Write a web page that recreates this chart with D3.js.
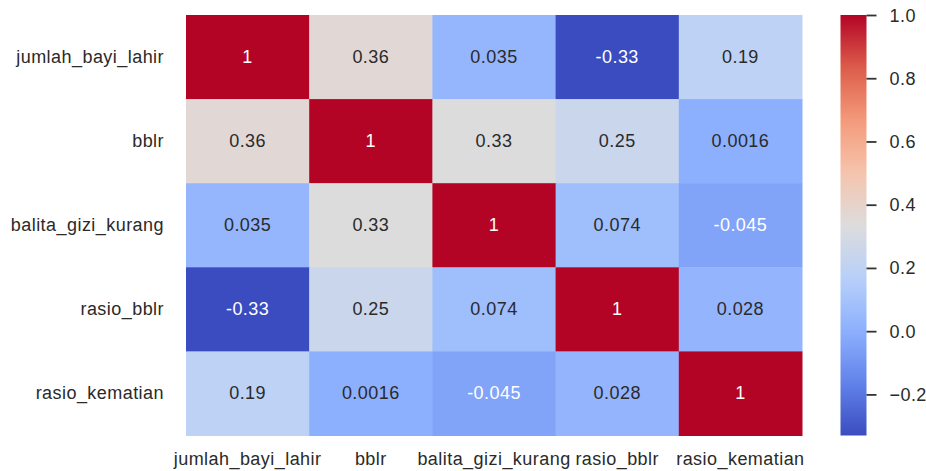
<!DOCTYPE html>
<html>
<head>
<meta charset="utf-8">
<script src="https://cdn.jsdelivr.net/npm/d3@7"></script>
<style>
  html, body { margin: 0; padding: 0; background: #ffffff; }
  svg { display: block; }
  text { font-family: "Liberation Sans", Arial, Helvetica, sans-serif; letter-spacing: 0.45px; }
</style>
</head>
<body>
<svg id="chart" width="926" height="471"></svg>
<script>
// Variables of the correlation matrix (rows and columns share the same order)
const variables = ["jumlah_bayi_lahir", "bblr", "balita_gizi_kurang", "rasio_bblr", "rasio_kematian"];

// Pearson correlation coefficients, one array per row
const rowJumlahBayiLahir = [1, 0.36, 0.035, -0.33, 0.19];
const rowBblr            = [0.36, 1, 0.33, 0.25, 0.0016];
const rowBalitaGiziKurang = [0.035, 0.33, 1, 0.074, -0.045];
const rowRasioBblr       = [-0.33, 0.25, 0.074, 1, 0.028];
const rowRasioKematian   = [0.19, 0.0016, -0.045, 0.028, 1];
const matrix = [rowJumlahBayiLahir, rowBblr, rowBalitaGiziKurang, rowRasioBblr, rowRasioKematian];

// Colour bar tick values
const colorbarTicks = [-0.2, 0.0, 0.2, 0.4, 0.6, 0.8, 1.0];

// "coolwarm" diverging colormap stops
const coolwarmStops = ["#3b4cc0", "#6282ea", "#8db0fe", "#b8d0f9", "#dddcdc",
                       "#f5c4ac", "#f49a7b", "#dc5d4a", "#b40426"];

const vmin = d3.min(matrix.flat());
const vmax = d3.max(matrix.flat());

const svg = d3.select("#chart");
const textColor = "#2a2a2a";
const fontSize = 18;

// Heatmap area
const hm = { left: 186, top: 15, right: 802, bottom: 435.5 };

const x = d3.scaleBand().domain(variables).range([hm.left, hm.right]);
const y = d3.scaleBand().domain(variables).range([hm.top, hm.bottom]);

const t = d3.scaleLinear().domain([vmin, vmax]).range([0, 1]).clamp(true);
const cmap = d3.scaleLinear()
  .domain(coolwarmStops.map((_, i) => i / (coolwarmStops.length - 1)))
  .range(coolwarmStops)
  .interpolate(d3.interpolateRgb);
const color = v => cmap(t(v));

// Annotation text colour depends on the luminance of the cell colour
function relLum(c) {
  const rgb = d3.rgb(c);
  const lin = [rgb.r, rgb.g, rgb.b].map(v => {
    v /= 255;
    return v <= 0.03928 ? v / 12.92 : Math.pow((v + 0.055) / 1.055, 2.4);
  });
  return 0.2126 * lin[0] + 0.7152 * lin[1] + 0.0722 * lin[2];
}

const fmt = d3.formatLocale({ decimal: ".", thousands: ",", grouping: [3], currency: ["", ""], minus: "-" })
  .format(".2~g");

const cells = [];
matrix.forEach((row, i) => row.forEach((v, j) => cells.push({ r: variables[i], c: variables[j], v })));

const g = svg.append("g");
g.selectAll("rect.cell")
  .data(cells)
  .join("rect")
  .attr("class", "cell")
  .attr("x", d => x(d.c))
  .attr("y", d => y(d.r))
  .attr("width", x.bandwidth() + 0.5)
  .attr("height", y.bandwidth() + 0.5)
  .attr("fill", d => color(d.v));

g.selectAll("text.annot")
  .data(cells)
  .join("text")
  .attr("class", "annot")
  .attr("x", d => x(d.c) + x.bandwidth() / 2)
  .attr("y", d => y(d.r) + y.bandwidth() / 2)
  .attr("text-anchor", "middle")
  .attr("dominant-baseline", "central")
  .attr("font-size", fontSize)
  .attr("fill", d => relLum(color(d.v)) > 0.408 ? textColor : "#ffffff")
  .text(d => fmt(d.v));

// Row labels
svg.append("g")
  .selectAll("text")
  .data(variables)
  .join("text")
  .attr("x", hm.left - 22)
  .attr("y", d => y(d) + y.bandwidth() / 2)
  .attr("text-anchor", "end")
  .attr("dominant-baseline", "central")
  .attr("font-size", fontSize)
  .attr("fill", textColor)
  .text(d => d);

// Column labels
svg.append("g")
  .selectAll("text")
  .data(variables)
  .join("text")
  .attr("x", d => x(d) + x.bandwidth() / 2)
  .attr("y", 459)
  .attr("text-anchor", "middle")
  .attr("dominant-baseline", "central")
  .attr("font-size", fontSize)
  .attr("fill", textColor)
  .text(d => d);

// Colour bar
const cb = { left: 840.5, width: 26, top: hm.top, bottom: hm.bottom };
const cbScale = d3.scaleLinear().domain([vmin, vmax]).range([cb.bottom, cb.top]);

const defs = svg.append("defs");
const grad = defs.append("linearGradient")
  .attr("id", "cbgrad")
  .attr("x1", 0).attr("y1", 1).attr("x2", 0).attr("y2", 0);
d3.range(0, 1.0001, 0.02).forEach(s => {
  grad.append("stop").attr("offset", s).attr("stop-color", cmap(s));
});

svg.append("rect")
  .attr("x", cb.left)
  .attr("y", cb.top)
  .attr("width", cb.width)
  .attr("height", cb.bottom - cb.top)
  .attr("fill", "url(#cbgrad)");

const cbAxis = d3.axisRight(cbScale)
  .tickValues(colorbarTicks)
  .tickFormat(d3.format(".1f"))
  .tickSize(10)
  .tickPadding(13);

const axG = svg.append("g")
  .attr("transform", `translate(${cb.left + cb.width},0)`)
  .call(cbAxis);
axG.select(".domain").remove();
axG.selectAll(".tick line").attr("stroke", "#333333").attr("stroke-width", 1.8);
axG.selectAll(".tick text")
  .attr("font-size", fontSize)
  .attr("font-family", "'Liberation Sans', Arial, sans-serif")
  .attr("fill", textColor)
  .attr("dy", null)
  .attr("dominant-baseline", "central");
</script>
</body>
</html>
